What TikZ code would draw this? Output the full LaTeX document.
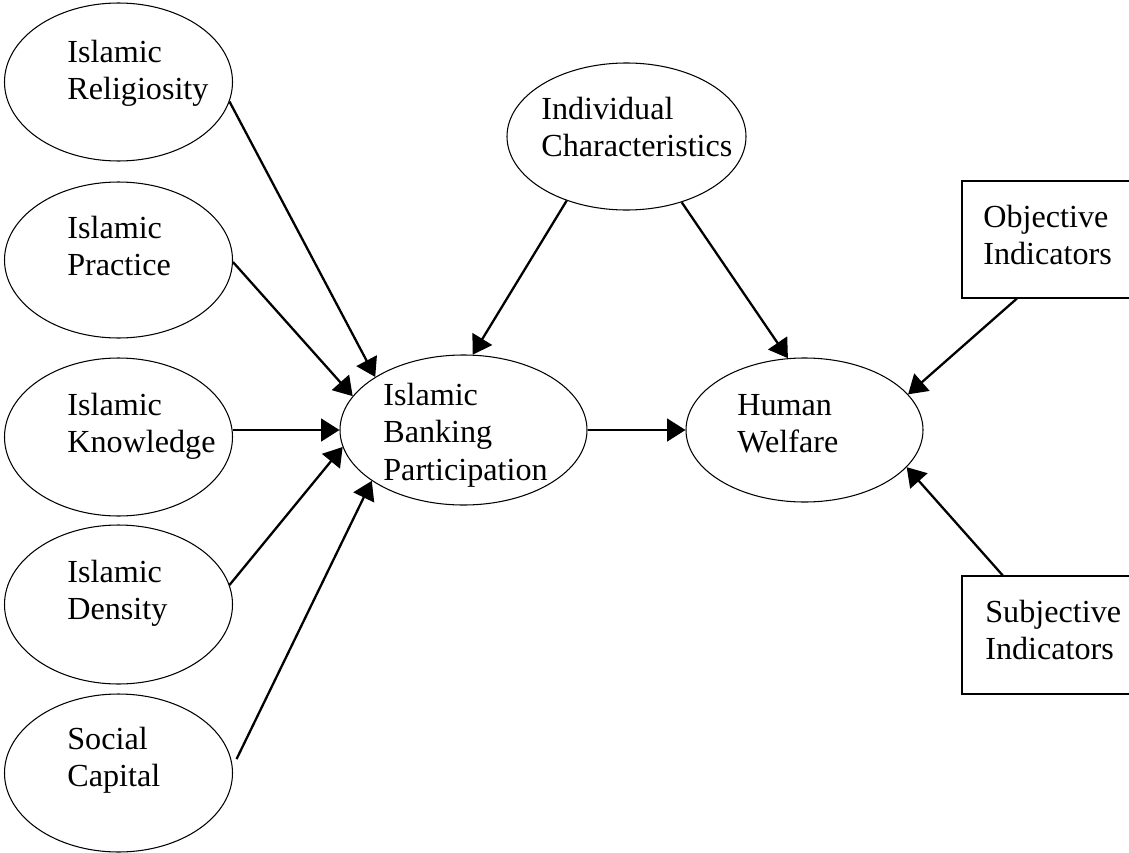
\documentclass[tikz,border=0pt]{standalone}
\usepackage{fontspec}
\setmainfont{Liberation Serif}
\usetikzlibrary{arrows.meta,shapes.geometric}
\newcommand\pxu{0.02cm}
\tikzset{
  oval/.style={draw, line width=0.6pt, ellipse, inner sep=0pt},
  bx/.style={draw, line width=0.6pt, rectangle, inner sep=0pt, minimum width=178*\pxu},
  lbl/.style={anchor=north west, inner sep=0pt, align=left,
    font=\fontsize{18.3pt}{21.3pt}\selectfont},
  conn/.style={line width=1.3pt, -{Triangle[length=10.5pt,width=13pt]}},
}
\newcommand\fl{\rule{0pt}{14pt}}
\begin{document}
\begin{tikzpicture}[x=0.02cm,y=-0.02cm]
\useasboundingbox (0,0) rectangle (1129,852);
% left ellipses
\node[oval, minimum width=228*\pxu, minimum height=158*\pxu] (rel) at (118.5,82) {};
\node[oval, minimum width=228*\pxu, minimum height=156*\pxu] (pra) at (118.5,260) {};
\node[oval, minimum width=228*\pxu, minimum height=158*\pxu] (kno) at (118.5,437) {};
\node[oval, minimum width=228*\pxu, minimum height=159*\pxu] (den) at (118.5,604.5) {};
\node[oval, minimum width=228*\pxu, minimum height=158*\pxu] (soc) at (118.5,773) {};
% centre ellipses
\node[oval, minimum width=247*\pxu, minimum height=150*\pxu] (ban) at (463.5,430) {};
\node[oval, minimum width=237*\pxu, minimum height=144*\pxu] (wel) at (804.5,430) {};
\node[oval, minimum width=239*\pxu, minimum height=147*\pxu] (ind) at (626.5,136.5) {};
% boxes
\node[bx, minimum height=117*\pxu] (obj) at (1051,239.5) {};
\node[bx, minimum height=118*\pxu] (sub) at (1051,635) {};
% texts
\node[lbl] (trel) at (67,37.3) {\fl Islamic\\Religiosity};
\node[lbl] (tpra) at (67,213.3) {\fl Islamic\\Practice};
\node[lbl] (tkno) at (67,390.3) {\fl Islamic\\Knowledge};
\node[lbl] (tden) at (67,557.3) {\fl Islamic\\Density};
\node[lbl] (tsoc) at (67,724.3) {\fl Social\\Capital};
\node[lbl] (tban) at (383,380.3) {\fl Islamic\\Banking\\Participation};
\node[lbl] (twel) at (737,390.3) {\fl Human\\Welfare};
\node[lbl] (tind) at (541,94.3) {\fl Individual\\Characteristics};
\node[lbl] (tobj) at (983,202.3) {\fl Objective\\Indicators};
\node[lbl] (tsub) at (985,597.3) {\fl Subjective\\Indicators};
% connectors
\draw[conn] (rel.-10.5) -- (ban.149.5);
\draw[conn] (pra.-1) -- (ban.163.3);
\draw[conn] (kno.east |- ban.west) -- (ban.west);
\draw[conn] (den.10.6) -- (ban.188.4);
\draw[conn, shorten <=5pt] (soc.3.8) -- (ban.209.4);
\draw[conn] (ind.227.2) -- (ban.83.5);
\draw[conn] (ind.310.8) -- (wel.103.5);
\draw[conn] (ban.east) -- (wel.west);
\draw[conn] (obj.240.6) -- (wel.19.9);
\draw[conn] (sub.129.7) -- (wel.-20.4);
\end{tikzpicture}
\end{document}
